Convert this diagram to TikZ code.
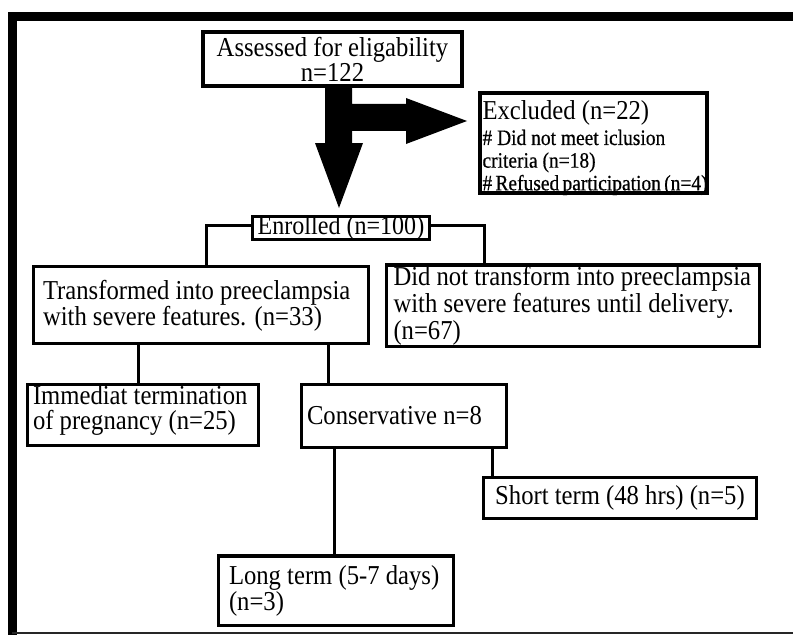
\documentclass[tikz,border=0pt]{standalone}
\usepackage{fontspec}
\setmainfont[FakeStretch=0.9024]{Liberation Serif}
\newfontfamily\exfont[FakeStretch=0.885,FakeBold=0.5]{Liberation Serif}
\newcommand\bigf{\fontsize{20.5}{19.5}\selectfont}
\newcommand\smallf{\exfont\fontsize{16.5}{17}\selectfont}
\newcommand\lblock[3]{\vtop{\baselineskip=#2\lineskiplimit=-40pt\lineskip=0pt\halign{\hbox to #1{##\hfil}\cr#3\crcr}}}
\newcommand\cblock[2]{\vtop{\baselineskip=#1\lineskiplimit=-40pt\lineskip=0pt\halign{\hfil##\hfil\cr#2\crcr}}}
\begin{document}
\begin{tikzpicture}[x=0.75pt,y=-0.75pt,
  box/.style={draw, rectangle, line width=2.6pt, inner sep=0pt, font=\bigf},
  thickbox/.style={box, line width=3pt},
  link/.style={draw, line width=2.25pt}]
\useasboundingbox (0,0) rectangle (793,635);
\fill[white] (0,0) rectangle (793,635);
\begin{scope}
\clip (0,0) rectangle (793,635);
\draw[line width=6.75pt] (12,660) -- (12,16.5) -- (820,16.5);
\end{scope}
\draw[line width=1.5pt, black!85] (12,633) -- (793,633);

\node[thickbox, minimum width=194.25pt, minimum height=40.5pt, text height=0pt, text depth=3.75pt] (assess) at (332.5,59) {\cblock{18.75pt}{Assessed for eligability\cr n=122}};

\node[thickbox, minimum width=170.25pt, minimum height=75pt, text height=0pt, text depth=36pt] (excl) at (593.5,143) {\lblock{166.5pt}{17pt}{\bigf Excluded (n=22)\cr\noalign{\vskip2.5pt}\smallf\# Did not meet iclusion\cr\smallf criteria (n=18)\cr\smallf\# Refused participation (n=4)}};

\node[box, line width=2.4pt, minimum width=132.75pt, minimum height=17.25pt, font=\fontsize{20}{20}\selectfont, text height=9pt, text depth=0pt] (enr) at (341,228) {Enrolled (n=100)};

\node[box, minimum width=250.9pt, minimum height=57.4pt, text height=0pt, text depth=9pt] (trans) at (201,305) {\lblock{237pt}{19.5pt}{Transformed into preeclampsia\cr with severe features. (n=33)}};

\node[box, minimum width=279.4pt, minimum height=61.1pt, text height=0pt, text depth=30.75pt] (dn) at (573,305.5) {\lblock{269.25pt}{20.6pt}{Did not transform into preeclampsia\cr with severe features until delivery.\cr (n=67)}};

\node[box, minimum width=172.9pt, minimum height=45.4pt, text height=0pt, text depth=16.5pt] (imm) at (143,415) {\lblock{165pt}{19.1pt}{Immediat termination\cr of pregnancy (n=25)}};

\node[box, minimum width=153.4pt, minimum height=46.9pt, text height=12pt, text depth=0pt] (cons) at (404,416) {\lblock{145.5pt}{19pt}{Conservative n=8}};

\node[box, minimum width=204.4pt, minimum height=30.4pt, text height=9pt, text depth=0pt] (short) at (620,498) {Short term (48 hrs) (n=5)};

\node[box, minimum width=175.9pt, minimum height=52.1pt, text height=0pt, text depth=9.75pt] (long) at (336,590.5) {\lblock{160.5pt}{19.5pt}{Long term (5-7 days)\cr (n=3)}};

\draw[link] ([yshift=2.25pt]enr.west) -| ([xshift=3.75pt]trans.north);
\draw[link] ([yshift=2.25pt]enr.east) -| ([xshift=-66.75pt]dn.north);
\draw[link] ([xshift=-47.25pt]trans.south) -- ([xshift=-47.25pt]trans.south |- imm.north);
\draw[link] ([xshift=95.25pt]trans.south) -- ([xshift=95.25pt]trans.south |- cons.north);
\draw[link] ([xshift=-52.5pt]cons.south) -- ([xshift=-52.5pt]cons.south |- long.north);
\draw[link] ([xshift=66pt]cons.south) -- ([xshift=66pt]cons.south |- short.north);

\fill (325,86) -- (352,86) -- (352,104) -- (406,104) -- (406,98) -- (467,121) -- (406,144) -- (406,131) -- (352,131) -- (352,143) -- (363,143) -- (339,208) -- (315,143) -- (325,143) -- cycle;
\end{tikzpicture}
\end{document}
